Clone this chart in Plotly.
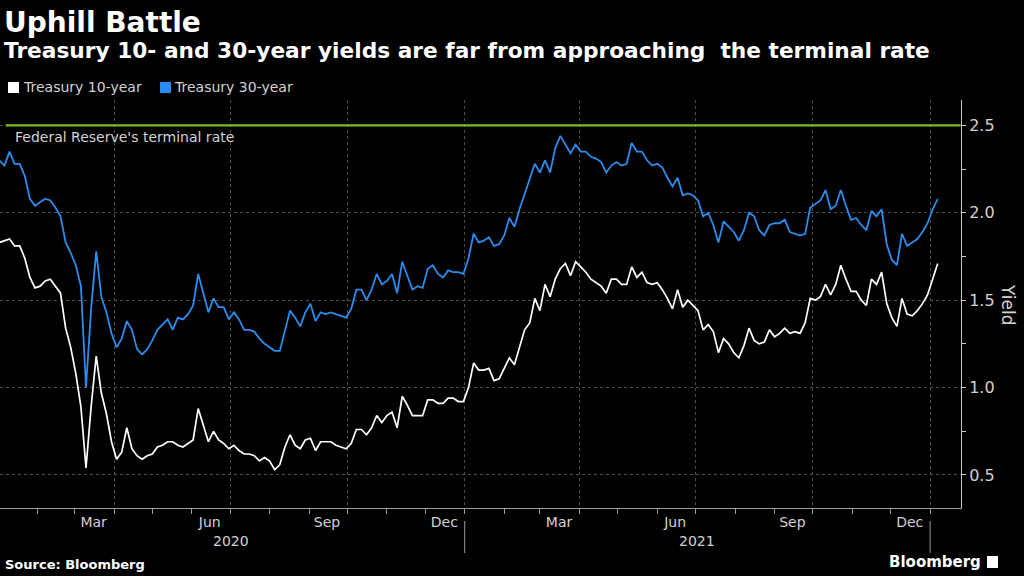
import pandas as pd
import plotly.graph_objects as go

# ---------------- data ----------------
dates = pd.date_range("2020-01-02", periods=185, freq="4D")

treasury_30y = [
    2.30, 2.27, 2.35, 2.28, 2.28, 2.21, 2.08, 2.04, 2.06, 2.08,
    2.07, 2.03, 1.98, 1.83, 1.77, 1.70, 1.58, 1.00, 1.45, 1.78,
    1.52, 1.43, 1.31, 1.23, 1.28, 1.38, 1.33, 1.22, 1.19, 1.22,
    1.27, 1.33, 1.36, 1.39, 1.33, 1.40, 1.39, 1.42, 1.47, 1.65,
    1.54, 1.43, 1.51, 1.46, 1.46, 1.39, 1.43, 1.39, 1.33, 1.33,
    1.32, 1.28, 1.25, 1.23, 1.21, 1.21, 1.33, 1.44, 1.40, 1.35,
    1.43, 1.48, 1.38, 1.43, 1.42, 1.43, 1.42, 1.41, 1.40, 1.45,
    1.56, 1.56, 1.50, 1.56, 1.65, 1.59, 1.61, 1.65, 1.54, 1.72,
    1.64, 1.56, 1.58, 1.57, 1.68, 1.70, 1.65, 1.63, 1.67, 1.66,
    1.66, 1.65, 1.74, 1.88, 1.83, 1.84, 1.86, 1.81, 1.82, 1.87,
    1.97, 1.92, 2.02, 2.11, 2.19, 2.28, 2.23, 2.30, 2.23, 2.37,
    2.44, 2.39, 2.34, 2.39, 2.35, 2.35, 2.32, 2.31, 2.29, 2.23,
    2.27, 2.29, 2.27, 2.28, 2.40, 2.35, 2.35, 2.30, 2.27, 2.28,
    2.26, 2.20, 2.15, 2.20, 2.10, 2.11, 2.10, 2.07, 1.98, 2.00,
    1.93, 1.83, 1.95, 1.92, 1.89, 1.84, 1.90, 2.00, 1.98, 1.90,
    1.87, 1.93, 1.94, 1.94, 1.96, 1.89, 1.88, 1.87, 1.88, 2.03,
    2.05, 2.07, 2.13, 2.02, 2.04, 2.13, 2.04, 1.96, 1.97, 1.93,
    1.90, 2.01, 1.98, 2.02, 1.82, 1.73, 1.70, 1.88, 1.81, 1.83,
    1.85, 1.89, 1.94, 2.02, 2.08,
]

treasury_10y = [
    1.83, 1.84, 1.85, 1.81, 1.81, 1.74, 1.63, 1.57, 1.58, 1.61,
    1.62, 1.58, 1.54, 1.34, 1.23, 1.08, 0.89, 0.54, 0.89, 1.18,
    0.97, 0.85, 0.69, 0.59, 0.63, 0.77, 0.65, 0.61, 0.59, 0.61,
    0.62, 0.66, 0.67, 0.69, 0.69, 0.67, 0.66, 0.68, 0.70, 0.88,
    0.79, 0.69, 0.75, 0.70, 0.68, 0.65, 0.67, 0.64, 0.62, 0.62,
    0.61, 0.58, 0.60, 0.58, 0.53, 0.56, 0.66, 0.73, 0.67, 0.65,
    0.70, 0.71, 0.64, 0.69, 0.69, 0.69, 0.67, 0.66, 0.65, 0.68,
    0.76, 0.76, 0.73, 0.77, 0.84, 0.80, 0.84, 0.86, 0.77, 0.95,
    0.90, 0.84, 0.84, 0.84, 0.93, 0.93, 0.91, 0.91, 0.94, 0.94,
    0.92, 0.92, 1.00, 1.14, 1.10, 1.10, 1.11, 1.04, 1.05, 1.11,
    1.17, 1.13, 1.23, 1.33, 1.37, 1.51, 1.44, 1.59, 1.52, 1.62,
    1.68, 1.71, 1.64, 1.72, 1.69, 1.66, 1.62, 1.60, 1.58, 1.54,
    1.62, 1.62, 1.59, 1.59, 1.69, 1.63, 1.66, 1.60, 1.59, 1.60,
    1.56, 1.51, 1.45, 1.56, 1.46, 1.50, 1.47, 1.44, 1.33, 1.36,
    1.32, 1.20, 1.28, 1.25, 1.20, 1.17, 1.24, 1.34, 1.27, 1.25,
    1.26, 1.33, 1.29, 1.31, 1.34, 1.31, 1.32, 1.31, 1.37, 1.51,
    1.50, 1.52, 1.59, 1.53, 1.59, 1.70, 1.62, 1.55, 1.55, 1.50,
    1.47, 1.62, 1.59, 1.66, 1.48, 1.40, 1.35, 1.51, 1.42, 1.41,
    1.44, 1.48, 1.53, 1.62, 1.71,
]

terminal_dates = ["2020-01-07", "2022-01-25"]
terminal_rate = [2.5, 2.5]

month_label_dates = ["2020-03-16", "2020-06-15", "2020-09-15", "2020-12-16",
                     "2021-03-16", "2021-06-15", "2021-09-15", "2021-12-16"]
month_labels = ["Mar", "Jun", "Sep", "Dec", "Mar", "Jun", "Sep", "Dec"]
quarter_starts = ["2020-04-01", "2020-07-01", "2020-10-01", "2021-01-01",
                  "2021-04-01", "2021-07-01", "2021-10-01", "2022-01-01"]
year_label_dates = ["2020-07-02", "2021-07-02"]
year_labels = ["2020", "2021"]
year_breaks = ["2021-01-01", "2022-01-01"]
y_ticks = [0.5, 1.0, 1.5, 2.0, 2.5]
y_tick_text = ["0.5", "1.0", "1.5", "2.0", "2.5"]

# ---------------- styling ----------------
FONT = "DejaVu Sans"
BLUE = "#2a8cec"
WHITE = "#ffffff"
GREEN = "#78c01e"
GRID = "#4d4d4d"
AXIS = "#9a9a9a"
TXT = "#d2d2d2"
X_RANGE = ["2020-01-02 13:00", "2022-01-25 06:00"]
Y_RANGE = [0.311, 2.645]

W, H = 1024, 576
PL, PR, PT, PB = 0, 961, 100, 508


def xp(px):
    return (px - PL) / (PR - PL)


def yp(py):
    return (PB - py) / (PB - PT)


fig = go.Figure()
fig.add_trace(go.Scatter(x=dates, y=treasury_30y, mode="lines", name="Treasury 30-year",
                         line=dict(color=BLUE, width=1.8), showlegend=False))
fig.add_trace(go.Scatter(x=dates, y=treasury_10y, mode="lines", name="Treasury 10-year",
                         line=dict(color=WHITE, width=1.7), showlegend=False))
fig.add_trace(go.Scatter(x=terminal_dates, y=terminal_rate, mode="lines",
                         name="Federal Reserve's terminal rate",
                         line=dict(color=GREEN, width=2.2), showlegend=False))
# carrier trace for the month-label axis
fig.add_trace(go.Scatter(x=[month_label_dates[0]], y=[None], xaxis="x2", mode="markers",
                         showlegend=False, hoverinfo="skip"))

annotations = [
    dict(text="<b>Uphill Battle</b>", x=xp(2), y=yp(22), font=dict(size=28, color="white")),
    dict(text="<b>Treasury 10- and 30-year yields are far from approaching  the terminal rate</b>",
         x=xp(2), y=yp(51), font=dict(size=21.7, color="white")),
    dict(text="Treasury 10-year", x=xp(21), y=yp(87), font=dict(size=14, color=TXT)),
    dict(text="Treasury 30-year", x=xp(172), y=yp(87), font=dict(size=14, color=TXT)),
    dict(text="Federal Reserve's terminal rate", x=xp(13), y=yp(137), font=dict(size=14, color=TXT)),
    dict(text="Yield", x=xp(1008), y=yp(304), textangle=90, xanchor="center",
         font=dict(size=17, color=TXT)),
    dict(text="<b>Source: Bloomberg</b>", x=xp(3), y=yp(564), font=dict(size=13, color="white")),
    dict(text="<b>Bloomberg</b>", x=xp(983), y=yp(562), xanchor="right",
         font=dict(size=15, color="white")),
]
for a in annotations:
    a.setdefault("xref", "paper")
    a.setdefault("yref", "paper")
    a.setdefault("xanchor", "left")
    a.setdefault("yanchor", "middle")
    a["showarrow"] = False

for d, t in zip(year_label_dates, year_labels):
    annotations.append(dict(text=t, x=d, xref="x", y=yp(541), yref="paper", showarrow=False,
                            xanchor="center", yanchor="middle", font=dict(size=14, color=TXT)))

shapes = [
    dict(type="rect", xref="paper", yref="paper", x0=xp(8), x1=xp(19), y0=yp(93), y1=yp(82),
         fillcolor=WHITE, line=dict(width=0)),
    dict(type="rect", xref="paper", yref="paper", x0=xp(160), x1=xp(171), y0=yp(93), y1=yp(82),
         fillcolor=BLUE, line=dict(width=0)),
    dict(type="rect", xref="paper", yref="paper", x0=xp(987), x1=xp(998), y0=yp(568), y1=yp(556),
         fillcolor="white", line=dict(width=0)),
]
for d in year_breaks:
    shapes.append(dict(type="line", xref="x", yref="paper", x0=d, x1=d, y0=yp(521), y1=yp(553),
                       line=dict(color=AXIS, width=1)))

fig.update_layout(
    width=W, height=H,
    margin=dict(l=PL, r=W - PR, t=PT, b=H - PB, pad=0),
    paper_bgcolor="black", plot_bgcolor="black",
    font=dict(family=FONT, color=TXT),
    showlegend=False,
    xaxis=dict(
        range=X_RANGE, type="date", tickmode="array", tickvals=quarter_starts,
        showticklabels=False, ticks="outside", ticklen=5, tickcolor=AXIS, tickwidth=1,
        showgrid=True, gridcolor=GRID, griddash="dot", gridwidth=1,
        showline=True, linecolor=AXIS, linewidth=1, zeroline=False,
        minor=dict(dtick="M1", tick0="2020-01-01", ticks="outside", ticklen=5,
                   tickcolor=AXIS, tickwidth=1, showgrid=False),
    ),
    xaxis2=dict(
        overlaying="x", anchor="y", side="bottom", range=X_RANGE, type="date",
        tickmode="array", tickvals=month_label_dates, ticktext=month_labels,
        ticks="", showgrid=False, showline=False, zeroline=False,
        ticklabelstandoff=4, tickfont=dict(size=14, color=TXT),
    ),
    yaxis=dict(
        side="right", range=Y_RANGE, tickmode="array", tickvals=y_ticks, ticktext=y_tick_text,
        ticks="outside", ticklen=4, tickcolor="#c8c8c8", tickwidth=1,
        showline=True, linecolor="#c8c8c8", linewidth=1,
        showgrid=True, gridcolor=GRID, griddash="dot", gridwidth=1, zeroline=False,
        tickfont=dict(size=16, color=TXT),
        minor=dict(dtick=0.25, tick0=0, ticks="outside", ticklen=4, tickcolor="#c8c8c8",
                   showgrid=False),
    ),
    annotations=annotations,
    shapes=shapes,
)

fig.write_html(
    "out.html",
    config={"displayModeBar": False},
    post_script="document.body.style.margin='0';document.body.style.background='black';",
)
